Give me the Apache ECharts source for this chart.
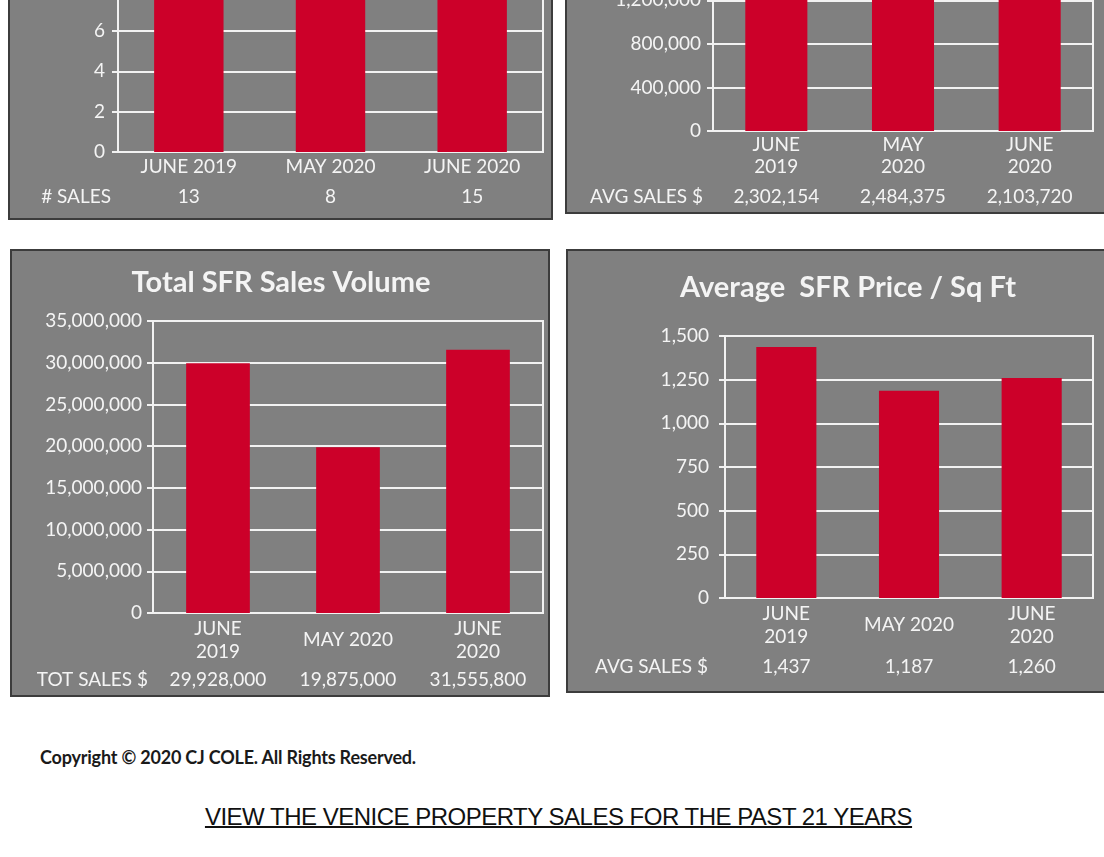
<!DOCTYPE html>
<html>
<head>
<meta charset="utf-8">
<script src="https://cdn.jsdelivr.net/npm/echarts@6/dist/echarts.min.js"></script>
<style>
  html, body { margin: 0; padding: 0; background: #fff; width: 1104px; height: 857px; overflow: hidden; position: relative; }
  .panel { position: absolute; background: #808080; border: 2px solid #3c3c3c; box-sizing: content-box; }
  .chart { width: 100%; height: 100%; }
  #copy { position: absolute; left: 40px; top: 746px; font-family: Lato, "Open Sans", sans-serif; font-weight: bold; font-size: 18px; color: #1a1a1a; letter-spacing: -0.2px; }
  #link { position: absolute; left: 0; width: 1117px; top: 803px; text-align: center; font-family: "Liberation Sans", Arial, sans-serif; font-size: 24px; color: #111; text-decoration: underline; text-decoration-thickness: 2px; letter-spacing: -0.5px; }
</style>
</head>
<body>
<div class="panel" style="left:8px; top:-230px; width:541px; height:446px;"><div id="c1" class="chart"></div></div>
<div class="panel" style="left:565px; top:-232px; width:545px; height:442px;"><div id="c2" class="chart"></div></div>
<div class="panel" style="left:10px; top:249px; width:536px; height:444px;"><div id="c3" class="chart"></div></div>
<div class="panel" style="left:566px; top:249px; width:544px; height:440px;"><div id="c4" class="chart"></div></div>
<div id="copy">Copyright © 2020 CJ COLE. All Rights Reserved.</div>
<div id="link">VIEW THE VENICE PROPERTY SALES FOR THE PAST 21 YEARS</div>
<script>
// data
var salesMonths = ['JUNE 2019', 'MAY 2020', 'JUNE 2020'];
var salesCount = [13, 8, 15];

var avgMonths = ['JUNE\n2019', 'MAY\n2020', 'JUNE\n2020'];
var avgPrice = [2302154, 2484375, 2103720];

var volMonths = ['JUNE\n2019', 'MAY 2020', 'JUNE\n2020'];
var totalVolume = [29928000, 19875000, 31555800];

var sqftMonths = ['JUNE\n2019', 'MAY 2020', 'JUNE\n2020'];
var pricePerSqFt = [1437, 1187, 1260];

var countTicks = [0, 16, 2];
var avgTicks = [0, 2800000, 400000];
var volTicks = [0, 35000000, 5000000];
var sqftTicks = [0, 1500, 250];

var FONT = 'Lato, "Open Sans", sans-serif';
var TXT = '#f4f4f4';
var RED = '#cc0029';
var FS = 19;

function fmt(v) { return Number(v).toLocaleString('en-US'); }

function barChart(id, p) {
    var chart = echarts.init(document.getElementById(id));
    var opt = {
        animation: false,
        textStyle: { fontFamily: FONT },
        grid: {
            left: p.grid[0], top: p.grid[1], right: p.grid[2], bottom: p.grid[3],
            show: true, borderColor: '#f2f2f2', borderWidth: 2, backgroundColor: 'transparent'
        },
        xAxis: [
            {
                type: 'category',
                data: p.cats,
                axisLine: { lineStyle: { color: '#f2f2f2', width: 2 } },
                axisTick: { show: false },
                axisLabel: {
                    color: TXT, fontSize: FS, fontFamily: FONT, margin: p.catMargin,
                    verticalAlign: 'middle', lineHeight: p.lineHeight || 22, interval: 0
                }
            },
            {
                type: 'category',
                position: 'bottom',
                data: p.values.map(fmt),
                offset: p.rowOffset,
                name: p.rowName,
                nameLocation: 'start',
                nameGap: p.nameGap,
                nameTextStyle: { color: TXT, fontSize: FS, fontFamily: FONT, align: 'right', verticalAlign: 'middle' },
                axisLine: { show: false },
                axisTick: { show: false },
                axisLabel: { color: TXT, fontSize: FS, fontFamily: FONT, margin: 0, verticalAlign: 'middle', interval: 0 }
            }
        ],
        yAxis: {
            type: 'value',
            min: p.ticks[0], max: p.ticks[1], interval: p.ticks[2],
            axisLine: { show: true, lineStyle: { color: '#f2f2f2', width: 2 } },
            axisTick: { show: true, inside: false, length: 6, lineStyle: { color: '#f2f2f2', width: 2 } },
            splitLine: { lineStyle: { color: '#f2f2f2', width: 2 } },
            axisLabel: { color: TXT, fontSize: FS, fontFamily: FONT, margin: p.yMargin, formatter: fmt }
        },
        series: [{
            type: 'bar',
            data: p.values,
            barWidth: '49%',
            itemStyle: { color: RED }
        }]
    };
    if (p.title) {
        opt.title = {
            text: p.title,
            left: p.titleX,
            top: p.titleY,
            textAlign: 'center',
            textStyle: { color: TXT, fontSize: 29, fontWeight: 'bold', fontFamily: FONT }
        };
    }
    chart.setOption(opt);
    return chart;
}

barChart('c1', {
    cats: salesMonths, values: salesCount, ticks: countTicks,
    grid: [108, 57, 8, 66], catMargin: 15, rowOffset: 45,
    rowName: '# SALES', nameGap: 7, yMargin: 13
});

barChart('c2', {
    cats: avgMonths, values: avgPrice, ticks: avgTicks,
    grid: [146, 56, 19, 81], catMargin: 25, rowOffset: 66,
    rowName: 'AVG SALES $', nameGap: 10, yMargin: 12
});

barChart('c3', {
    title: 'Total SFR Sales Volume', titleX: 264, titleY: 12,
    cats: volMonths, values: totalVolume, ticks: volTicks, lineHeight: 23,
    grid: [141, 70, 5, 82], catMargin: 27, rowOffset: 67,
    rowName: 'TOT SALES $', nameGap: 5, yMargin: 11
});

barChart('c4', {
    title: 'Average  SFR Price / Sq Ft', titleX: 275, titleY: 17,
    cats: sqftMonths, values: pricePerSqFt, ticks: sqftTicks, lineHeight: 23,
    grid: [157, 85, 19, 93], catMargin: 27, rowOffset: 69,
    rowName: 'AVG SALES $', nameGap: 17, yMargin: 16
});
</script>
</body>
</html>
